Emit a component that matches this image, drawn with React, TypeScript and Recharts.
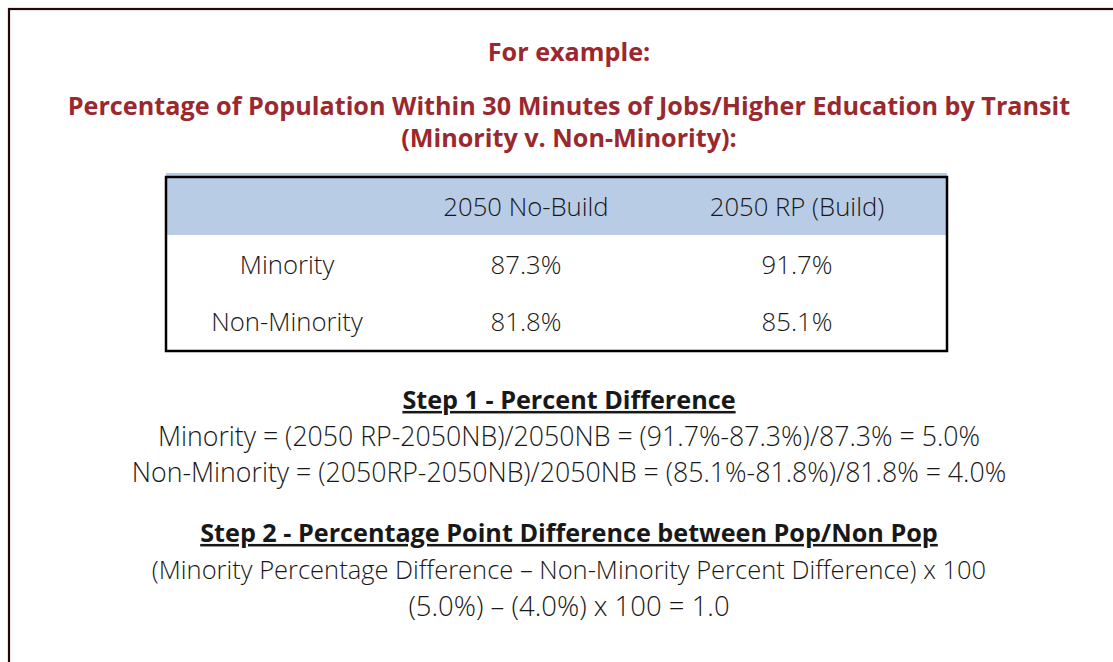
import { Surface, Layer, Text, Rectangle } from "recharts"

const WIDTH = 1113
const HEIGHT = 662

const heading = "For example:"
const titleLines = [
  "Percentage of Population Within 30 Minutes of Jobs/Higher Education by Transit",
  "(Minority v. Non-Minority):",
]

const columns = ["", "2050 No-Build", "2050 RP (Build)"]
const groups = ["Minority", "Non-Minority"]
const noBuild = [87.3, 81.8]
const build = [91.7, 85.1]

const step1Title = "Step 1 - Percent Difference"
const step1Lines = [
  "Minority = (2050 RP-2050NB)/2050NB = (91.7%-87.3%)/87.3% = 5.0%",
  "Non-Minority = (2050RP-2050NB)/2050NB = (85.1%-81.8%)/81.8% = 4.0%",
]
const step2Title = "Step 2 - Percentage Point Difference between Pop/Non Pop"
const step2Lines = [
  "(Minority Percentage Difference \u2013 Non-Minority Percent Difference) x 100",
  "(5.0%) \u2013 (4.0%) x 100 = 1.0",
]

const FONT = "'Open Sans', 'Noto Sans', sans-serif"
const RED = "#9a282e"
const INK = "#181818"
const CX = 569

const pct = (v: number) => `${v.toFixed(1)}%`

// table geometry
const tableLeft = 166
const tableRight = 947
const tableTop = 177
const headerBottom = 235
const tableBottom = 351
const colCenters = [287, 526, 797]
const rowCenters = [265, 322]

const Line = ({ y, text, bold, color, size, underline }: any) => (
  <Text
    x={CX}
    y={y}
    textAnchor="middle"
    verticalAnchor="middle"
    fontFamily={FONT}
    fontSize={size ?? (bold ? 25.2 : 25.5)}
    fontWeight={bold ? 700 : 300}
    fill={color ?? INK}
    style={underline ? { textDecoration: "underline" } : undefined}
  >
    {text}
  </Text>
)

const Cell = ({ x, y, text }: any) => (
  <Text x={x} y={y} textAnchor="middle" verticalAnchor="middle" fontFamily={FONT} fontSize={25.7} fontWeight={300} fill={INK}>
    {text}
  </Text>
)

export default function App() {
  const rows = groups.map((g, i) => [g, pct(noBuild[i]), pct(build[i])])
  return (
    <div style={{ position: "fixed", left: 0, top: 0, width: WIDTH, height: HEIGHT, background: "#fff" }}>
      <Surface width={WIDTH} height={HEIGHT}>
        <rect x={9} y={9} width={WIDTH + 20} height={HEIGHT + 20} fill="none" stroke="#220808" strokeWidth={2.2} />

        <Line y={52} text={heading} bold color={RED} />
        {titleLines.map((t, i) => (
          <Line key={t} y={106 + i * 32} text={t} bold color={RED} />
        ))}

        <Layer>
          <Rectangle x={tableLeft} y={173} width={tableRight - tableLeft} height={headerBottom - 173} fill="#b9cce6" />
          <rect
            x={tableLeft}
            y={tableTop}
            width={tableRight - tableLeft}
            height={tableBottom - tableTop}
            fill="none"
            stroke="#000"
            strokeWidth={2.5}
          />
          {columns.map((c, j) => (c ? <Cell key={c} x={colCenters[j]} y={207} text={c} /> : null))}
          {rows.map((r, i) => r.map((cell, j) => <Cell key={`${i}-${j}`} x={colCenters[j]} y={rowCenters[i]} text={cell} />))}
        </Layer>

        <Line y={400} text={step1Title} bold underline />
        {step1Lines.map((t, i) => (
          <Line key={t} y={437 + i * 36} text={t} size={26.7} />
        ))}
        <Line y={533} text={step2Title} bold underline />
        {step2Lines.map((t, i) => (
          <Line key={t} y={570 + i * 36} text={t} size={i === 1 ? 27.5 : 25.5} />
        ))}
      </Surface>
    </div>
  )
}
